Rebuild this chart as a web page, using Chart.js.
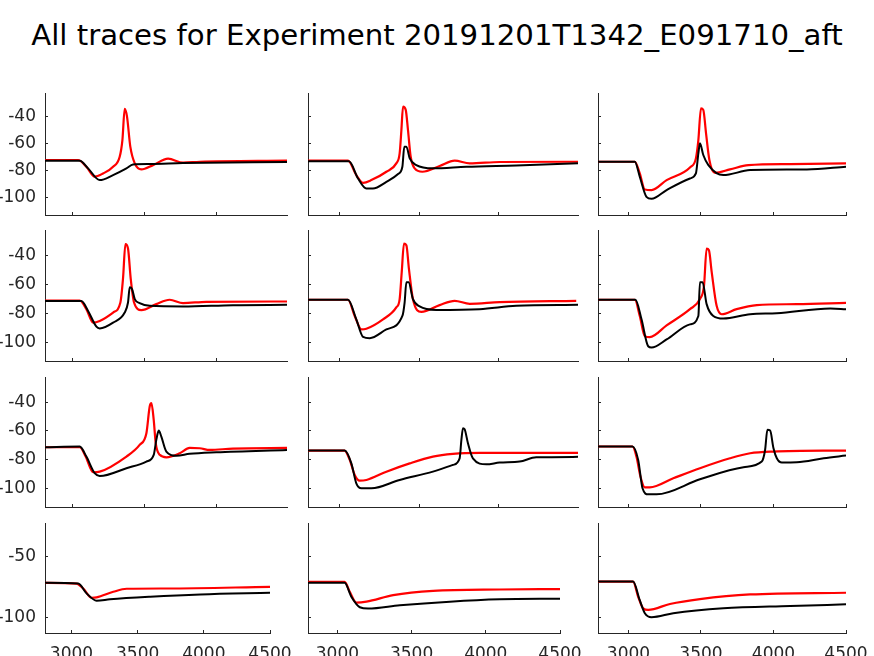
<!DOCTYPE html>
<html>
<head>
<meta charset="utf-8">
<script src="https://cdn.jsdelivr.net/npm/chart.js@4.4.0/dist/chart.umd.min.js"></script>
<style>
  html, body { margin: 0; padding: 0; background: #fff; overflow: hidden; }
  #page { position: relative; width: 874px; height: 656px; overflow: hidden; }
  #title { position: absolute; left: 0; top: 18px; width: 874px; text-align: center;
           font: 29.2px 'DejaVu Sans'; line-height: 34px; color: #000; white-space: nowrap; }
  .panel { position: absolute; }
</style>
</head>
<body>
<div id="page"><div id="title">All traces for Experiment 20191201T1342_E091710_aft</div></div>
<script>
// traces, [time, voltage]
var black1 = [[2807,-72.7],[3049,-72.7],[3107,-78.4],[3188,-87.1],[3281,-83.4],[3374,-78.4],[3420,-75.5],[3536,-75.2],[3768,-74.5],[4492,-73.7]];
var red1 = [[2807,-72.2],[3037,-72.2],[3095,-77.2],[3153,-84.6],[3211,-82.2],[3281,-77.2],[3327,-69.8],[3346,-57.4],[3362,-34.3],[3378,-40],[3401,-62.3],[3432,-74.7],[3478,-79.2],[3559,-76],[3664,-71.2],[3768,-74.2],[3884,-73.5],[4492,-72.7]];
var black2 = [[2806,-73.2],[3062,-73.2],[3119,-85.9],[3171,-93.3],[3212,-93.3],[3296,-88.4],[3369,-82.6],[3396,-77.2],[3408,-62.3],[3421,-62.3],[3442,-71],[3483,-76],[3587,-78.4],[3796,-77.2],[4108,-76.2],[4494,-74.7]];
var red2 = [[2806,-72.7],[3056,-72.7],[3108,-83.4],[3150,-89.1],[3202,-87.1],[3296,-80.9],[3358,-74.7],[3379,-67.3],[3390,-49.9],[3400,-32.6],[3417,-35],[3431,-49.9],[3448,-69.8],[3473,-78.4],[3521,-80.9],[3629,-76.7],[3723,-72.7],[3817,-74.7],[4004,-73.7],[4494,-73.5]];
var black3 = [[2790,-73.5],[3044,-73.5],[3078,-84.6],[3124,-99.5],[3159,-101],[3263,-94.5],[3424,-85.9],[3465,-82.2],[3482,-67.3],[3493,-59.8],[3516,-68.5],[3551,-76],[3654,-83.4],[3839,-79.7],[4230,-79.2],[4500,-77.2]];
var red3 = [[2790,-73.5],[3044,-73.5],[3078,-82.2],[3113,-94.1],[3159,-94.5],[3263,-87.1],[3424,-77.7],[3465,-71],[3482,-57.4],[3500,-33.8],[3516,-35],[3535,-52.4],[3558,-72.2],[3597,-81.7],[3700,-79.2],[3827,-76],[4115,-75.2],[4500,-74.7]];
var black4 = [[2807,-71.6],[3060,-71.6],[3107,-78.4],[3165,-89.3],[3188,-90.5],[3281,-86.5],[3362,-79.5],[3385,-72.6],[3397,-62.1],[3413,-63.3],[3432,-70.2],[3466,-73],[3536,-74.9],[3768,-75.3],[4116,-74.4],[4492,-74.2]];
var red4 = [[2807,-71.2],[3049,-71.2],[3095,-77.2],[3142,-86.5],[3188,-85.3],[3281,-79.5],[3332,-72.6],[3350,-56.3],[3367,-32.3],[3385,-35.3],[3404,-56.3],[3427,-72.6],[3478,-77.9],[3582,-73.7],[3675,-70.7],[3768,-73],[3930,-72.1],[4492,-71.9]];
var black5 = [[2806,-70.7],[3056,-70.7],[3108,-84.2],[3150,-96.3],[3192,-97.2],[3296,-91.2],[3396,-81.9],[3410,-72.6],[3421,-58.6],[3435,-58.6],[3462,-70.2],[3504,-75.3],[3608,-77.7],[3879,-77.2],[4108,-74.9],[4494,-74.2]];
var red5 = [[2806,-70.7],[3056,-70.7],[3098,-81.9],[3140,-91.2],[3171,-90.7],[3275,-84.2],[3358,-76],[3379,-70.2],[3392,-51.6],[3406,-31.9],[3421,-33],[3437,-49.3],[3462,-70.2],[3515,-79.1],[3629,-74.4],[3723,-71.4],[3817,-73.5],[4004,-72.3],[4483,-71.4]];
var black6 = [[2790,-70.7],[3048,-70.7],[3090,-84.2],[3136,-102.8],[3159,-103.7],[3263,-98.1],[3424,-87.7],[3482,-81.9],[3493,-58.6],[3511,-58.6],[3539,-73.7],[3585,-81.9],[3654,-83.7],[3839,-80.7],[4023,-80],[4392,-76.7],[4500,-77.2]];
var red6 = [[2790,-70.7],[3044,-70.7],[3078,-81.9],[3113,-95.8],[3147,-96.5],[3263,-88.4],[3424,-77.2],[3493,-70.2],[3521,-60.9],[3539,-35.3],[3555,-36.5],[3574,-51.6],[3608,-74.9],[3643,-80.7],[3746,-77.2],[3885,-74.4],[4161,-73.7],[4500,-72.8]];
var black7 = [[2807,-71.4],[3049,-70.9],[3095,-77.9],[3153,-89.5],[3188,-91.4],[3374,-86],[3513,-81.4],[3564,-76.7],[3582,-66.3],[3599,-59.8],[3617,-64],[3652,-74.4],[3722,-77.4],[3814,-76],[4000,-74.9],[4492,-73.3]];
var red7 = [[2807,-71.4],[3049,-71.4],[3090,-77.9],[3142,-88.8],[3188,-88.4],[3374,-77.9],[3466,-69.8],[3513,-61.6],[3536,-43],[3548,-40.7],[3564,-52.3],[3578,-68.6],[3606,-76.7],[3652,-78.4],[3745,-75.6],[3814,-71.9],[3884,-72.1],[3954,-73.3],[4116,-72.3],[4492,-71.9]];
var black8 = [[2806,-73.7],[3035,-73.7],[3077,-82.6],[3108,-96.5],[3140,-100],[3202,-100],[3379,-94.2],[3587,-88.4],[3712,-83.7],[3754,-79.1],[3765,-66.3],[3775,-58.1],[3785,-58.8],[3806,-68.6],[3837,-79.1],[3921,-83.3],[4004,-82.1],[4129,-81.4],[4233,-78.4],[4494,-78.1]];
var red8 = [[2806,-73.7],[3035,-73.7],[3067,-80.2],[3098,-90.7],[3129,-94.7],[3171,-94.2],[3296,-88.4],[3442,-82.6],[3587,-77.9],[3712,-76],[3879,-75.3],[4494,-75.3]];
var black9 = [[2790,-70.9],[3028,-70.9],[3067,-80.2],[3097,-100],[3136,-104.2],[3194,-104.2],[3493,-93.7],[3793,-85.3],[3919,-81.4],[3942,-73.3],[3958,-59.3],[3977,-59.8],[4000,-72.1],[4023,-79.1],[4058,-82.1],[4161,-81.9],[4346,-79.1],[4500,-77.2]];
var red9 = [[2790,-70.9],[3028,-70.9],[3055,-77.9],[3083,-91.9],[3113,-99.3],[3147,-99.3],[3309,-93],[3493,-86],[3700,-79.1],[3839,-75.6],[4000,-74.4],[4500,-73.7]];
var black10 = [[2800,-71.7],[3051,-72.3],[3114,-80.4],[3190,-86.4],[3291,-85.3],[3595,-83.2],[3974,-81.3],[4500,-79.9]];
var red10 = [[2800,-71.7],[3038,-72.3],[3089,-76.4],[3152,-84],[3190,-83.7],[3316,-79.1],[3417,-76.6],[3721,-76.4],[4500,-75]];
var black11 = [[2802,-71.7],[3049,-71.7],[3094,-83.2],[3151,-91.8],[3207,-92.9],[3421,-90.2],[3758,-87.2],[4095,-85.3],[4500,-84.8]];
var red11 = [[2802,-70.9],[3049,-70.9],[3083,-79.1],[3128,-88],[3196,-87.2],[3376,-81.8],[3645,-78.3],[4095,-77.2],[4500,-76.9]];
var black12 = [[2790,-70.7],[3032,-70.7],[3078,-86],[3113,-96.7],[3159,-100],[3309,-96.7],[3654,-92.7],[4115,-90.8],[4500,-89.4]];
var red12 = [[2790,-70.7],[3032,-70.7],[3067,-83.2],[3101,-92.7],[3136,-94],[3286,-89.1],[3493,-85.1],[3839,-81.3],[4500,-79.9]];

var blackTraces = [black1, black2, black3, black4, black5, black6, black7, black8, black9, black10, black11, black12];
var redTraces = [red1, red2, red3, red4, red5, red6, red7, red8, red9, red10, red11, red12];

// axis limits and ticks
var xMin = [[2807, 2806, 2790], [2807, 2806, 2790], [2807, 2806, 2790], [2800, 2802, 2790]];
var xMax = [[4492, 4494, 4500], [4492, 4494, 4500], [4492, 4494, 4500], [4500, 4500, 4500]];
var yMin = -113, yMax = -22.5;
var xTicks = [3000, 3500, 4000, 4500];
var yTicks = [-100, -80, -60, -40];
var yTicksLast = [-100, -50];

// panel boxes on the page (pixels)
var rowTop = [93, 230, 377, 523];
var rowBottom = [215, 361, 507, 633];
var colLeft = [45, 308, 598];
var colRight = [[287, 578, 846], [287, 578, 846], [287, 578, 846], [270, 560, 846]];

var PAD_L = 45, PAD_T = 8, PAD_R = 30, PAD_B = 30;
var axisColor = '#262626';
var tickFont = { family: 'DejaVu Sans', size: 17 };

function toPoints(arr) {
    return arr.map(function (p) { return { x: p[0], y: p[1] }; });
}

// keep the plot box where we put it, even with tick labels on
function noPadding(s) {
    s.paddingLeft = 0;
    s.paddingRight = 0;
    s.paddingTop = 0;
    s.paddingBottom = 0;
}

function makePanel(r, c) {
    var k = r * 3 + c;
    var w = colRight[r][c] - colLeft[c];
    var h = rowBottom[r] - rowTop[r];
    var div = document.createElement('div');
    div.className = 'panel';
    div.style.left = (colLeft[c] - PAD_L) + 'px';
    div.style.top = (rowTop[r] - PAD_T) + 'px';
    var cv = document.createElement('canvas');
    cv.width = w + PAD_L + PAD_R;
    cv.height = h + PAD_T + PAD_B;
    cv.style.width = cv.width + 'px';
    cv.style.height = cv.height + 'px';
    div.appendChild(cv);
    document.getElementById('page').appendChild(div);

    var yt = (r === 3) ? yTicksLast : yTicks;

    new Chart(cv, {
        type: 'line',
        data: {
            datasets: [{
                data: toPoints(blackTraces[k]),
                borderColor: '#000000',
                borderWidth: 2,
                pointRadius: 0,
                cubicInterpolationMode: 'monotone',
                fill: false
            }, {
                data: toPoints(redTraces[k]),
                borderColor: '#ff0000',
                borderWidth: 2.2,
                pointRadius: 0,
                cubicInterpolationMode: 'monotone',
                fill: false
            }]
        },
        options: {
            responsive: false,
            animation: false,
            devicePixelRatio: 1,
            layout: { padding: { left: 0, top: PAD_T, right: PAD_R, bottom: 0 }, autoPadding: false },
            plugins: { legend: { display: false }, tooltip: { enabled: false } },
            scales: {
                x: {
                    type: 'linear',
                    min: xMin[r][c],
                    max: xMax[r][c],
                    afterBuildTicks: function (s) {
                        s.ticks = xTicks.filter(function (v) { return v >= s.min && v <= s.max; })
                            .map(function (v) { return { value: v }; });
                    },
                    afterFit: function (s) { s.height = PAD_B; noPadding(s); },
                    ticks: {
                        display: r === 3,
                        font: tickFont,
                        color: axisColor,
                        padding: 14,
                        maxRotation: 0,
                        autoSkip: false,
                        callback: function (v) { return String(v); }
                    },
                    grid: { display: true, drawOnChartArea: false, drawTicks: true, tickLength: -3, color: axisColor, lineWidth: 1 },
                    border: { display: true, color: axisColor, width: 1 }
                },
                y: {
                    type: 'linear',
                    min: yMin,
                    max: yMax,
                    afterBuildTicks: function (s) {
                        s.ticks = yt.map(function (v) { return { value: v }; });
                    },
                    afterFit: function (s) { s.width = PAD_L; noPadding(s); },
                    ticks: {
                        display: c === 0,
                        font: tickFont,
                        color: axisColor,
                        padding: 12,
                        autoSkip: false,
                        callback: function (v) { return String(v); }
                    },
                    grid: { display: true, drawOnChartArea: false, drawTicks: true, tickLength: -3, color: axisColor, lineWidth: 1 },
                    border: { display: true, color: axisColor, width: 1 }
                }
            }
        }
    });
}

for (var r = 0; r < 4; r++) {
    for (var c = 0; c < 3; c++) {
        makePanel(r, c);
    }
}
</script>
</body>
</html>
